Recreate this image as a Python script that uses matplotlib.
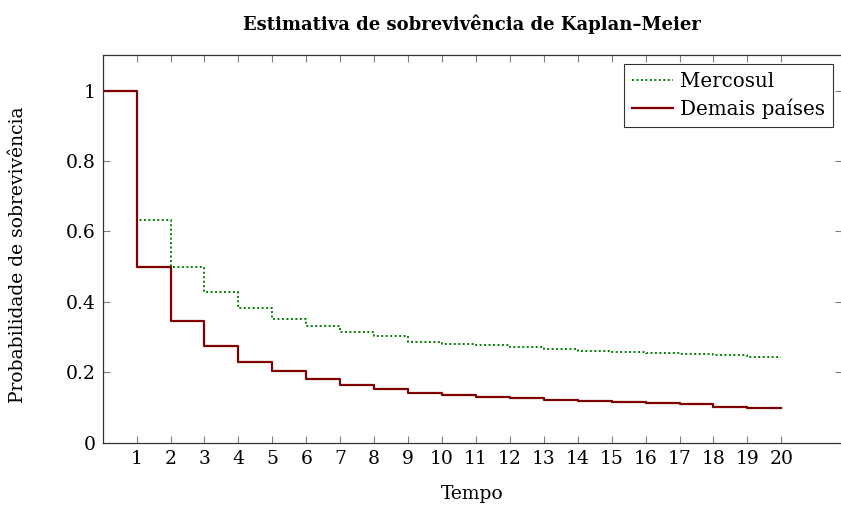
import matplotlib
matplotlib.use("Agg")
import matplotlib.pyplot as plt

tempo = list(range(0, 21))
mercosul = [1.0, 0.632, 0.500, 0.427, 0.383, 0.351, 0.330, 0.315, 0.303, 0.287,
            0.281, 0.277, 0.272, 0.267, 0.261, 0.258, 0.254, 0.251, 0.248, 0.244, 0.244]
demais = [1.0, 0.500, 0.345, 0.274, 0.230, 0.203, 0.181, 0.164, 0.152, 0.142,
          0.136, 0.130, 0.126, 0.122, 0.118, 0.115, 0.112, 0.109, 0.101, 0.099, 0.099]
xticks = list(range(1, 21))
yticks = [0, 0.2, 0.4, 0.6, 0.8, 1]
ytick_labels = ["0", "0.2", "0.4", "0.6", "0.8", "1"]

plt.rcParams['font.family'] = ['DejaVu Serif']
FS = 13.5
W, H = 841, 505
fig = plt.figure(figsize=(W / 100, H / 100), dpi=100)
left_px, right_px, top_px, bottom_px = 102.7, 842.0, 55.3, 442.7
aw, ah = right_px - left_px, bottom_px - top_px
ax = fig.add_axes([left_px / W, (H - bottom_px) / H, aw / W, ah / H])
unit = 33.93
ax.set_xlim(0, aw / unit)
ax.set_ylim(0, 1.1)

ax.step(tempo, mercosul, where='post', color='#007f00', linestyle=(0, (1, 1.3)),
        linewidth=1.4, label='Mercosul')
ax.step(tempo, demais, where='post', color='#7f0000', linestyle='-',
        linewidth=1.6, label='Demais países')

ax.set_xticks(xticks)
ax.set_xticklabels([str(t) for t in xticks])
ax.set_yticks(yticks)
ax.set_yticklabels(ytick_labels)
ax.tick_params(direction='in', length=5, width=0.8, color='#808080',
               top=True, right=True, labelsize=FS, pad=5)
for s in ax.spines.values():
    s.set_linewidth(0.9)
    s.set_color('#333333')

ax.set_title('Estimativa de sobrevivência de Kaplan–Meier', fontsize=13,
             fontweight='bold', pad=18)
ax.set_xlabel('Tempo', fontsize=FS)
ax.set_ylabel('Probabilidade de sobrevivência', fontsize=FS)
ax.xaxis.set_label_coords(0.5, -(485 - bottom_px) / ah)
ax.yaxis.set_label_coords(-(left_px - 27) / aw, 0.5 - 6 / ah)

leg = ax.legend(loc='upper right', fontsize=14.3, frameon=True, fancybox=False,
                edgecolor='black', handlelength=2.1, handletextpad=0.35,
                borderpad=0.4, labelspacing=0.4, borderaxespad=0,
                bbox_to_anchor=((833.3 - left_px) / aw, 1 - (64 - top_px) / ah))
leg.get_frame().set_linewidth(0.8)

fig.savefig('out.png', dpi=100)
